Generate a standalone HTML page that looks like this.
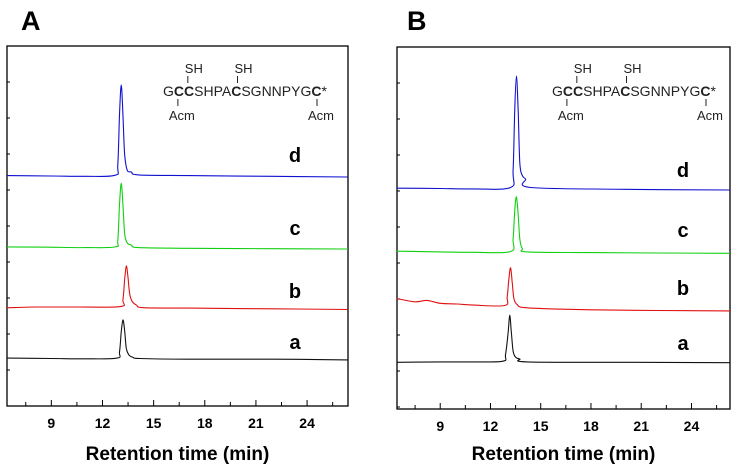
<!DOCTYPE html>
<html><head><meta charset="utf-8"><style>
body{margin:0;background:#fff;width:737px;height:472px;overflow:hidden}
svg{display:block;font-family:"Liberation Sans",Arial,sans-serif}
</style></head><body>
<svg id="c" width="737" height="472"></svg>
<script>
const xTicks=[9,12,15,18,21,24];
const traceNames=['a','b','c','d'];
const tracesA_t=[
 [6.4,9,11,12.85,13.0,13.1,13.2,13.3,13.4,13.55,13.8,14.2,17,22,26.4],
 [6.4,8.2,10.5,13.05,13.2,13.3,13.4,13.5,13.6,13.75,14.0,14.4,17,22,26.4],
 [6.4,9,11,12.75,12.9,13.0,13.1,13.2,13.3,13.45,13.7,14.1,17,22,26.4],
 [6.4,9,11,12.75,12.9,13.0,13.1,13.2,13.3,13.45,13.7,14.1,17,22,26.4]];
const tracesA_v=[
 [13.3,13.2,13.1,13.3,15,20.5,23.9,21,16,14.2,13.5,13.2,13.0,13.0,12.8],
 [27.3,27.5,27.5,27.6,29.5,35,38.9,35.5,31,29,28,27.3,27.2,27.0,26.8],
 [44.2,44.1,44.0,44.2,46,56,61.9,56,48,45.3,44.7,44.0,43.8,43.7,43.6],
 [64.0,63.9,63.8,64.1,67,81,89.2,81,70,65.5,65.0,64.2,64.0,63.8,63.6]];
const tracesB_t=[
 [6.4,9,11,12.75,12.9,13.05,13.15,13.25,13.35,13.5,13.75,14.2,20,26.3],
 [6.4,7.5,8.2,9,10,11,12.85,13.0,13.1,13.2,13.3,13.4,13.6,14.0,16,18,20,22,26.3],
 [6.4,9,11,13.2,13.35,13.45,13.55,13.65,13.75,13.9,14.2,18,22,26.3],
 [6.4,9,11,13.2,13.35,13.45,13.55,13.65,13.75,13.9,14.1,14.4,20,26.3]];
const tracesB_v=[
 [12.9,13.0,13.0,13.2,15,21,25.9,21,16,14.3,13.8,13.0,12.9,12.8],
 [30.5,29.6,30.0,29.2,29.0,28.7,28.6,31,36,39.0,35,30.5,28.8,28.0,27.6,27.4,27.3,27.2,27.1],
 [43.6,43.4,43.3,43.5,47,55,58.6,54,47,44.3,43.4,43.2,43.1,43.0],
 [61.0,60.9,60.8,61.2,66,83,92.0,83,68,64.5,63.5,61.2,60.7,60.5]];
const colors=['#111','#e01010','#10d010','#1010d0'];
const panels=[
 {name:'A',x0:7,x1:348,y0:46,y1:406,tmin:6.4,tmax:26.4,t:tracesA_t,v:tracesA_v,
  lx:295,ly:[342,291,228,155],tx:21,pep:{x:163,y:96}},
 {name:'B',x0:397,x1:730,y0:47,y1:409,tmin:6.42,tmax:26.3,t:tracesB_t,v:tracesB_v,
  lx:683,ly:[343,288,230,170],tx:407,pep:{x:552,y:96}}];
const NS='http://www.w3.org/2000/svg';
const svg=document.getElementById('c');
function mk(tag,attrs,parent,text){const e=document.createElementNS(NS,tag);for(const k in attrs)e.setAttribute(k,attrs[k]);if(text!==undefined)e.textContent=text;(parent||svg).appendChild(e);return e;}
function smooth(pts){let d='M'+pts[0][0].toFixed(1)+','+pts[0][1].toFixed(1);
 for(let i=0;i<pts.length-1;i++){const p0=pts[i-1]||pts[i],p1=pts[i],p2=pts[i+1],p3=pts[i+2]||p2;
  const c1=[p1[0]+(p2[0]-p0[0])/6,p1[1]+(p2[1]-p0[1])/6],c2=[p2[0]-(p3[0]-p1[0])/6,p2[1]-(p3[1]-p1[1])/6];
  d+=' C'+c1.map(v=>v.toFixed(1))+' '+c2.map(v=>v.toFixed(1))+' '+p2.map(v=>v.toFixed(1));}
 return d;}
panels.forEach((p,pi)=>{
 const g=mk('g',{});
 
 
 const X=t=>p.x0+(t-p.tmin)/(p.tmax-p.tmin)*(p.x1-p.x0);
 const Y=v=>p.y1-v/100*(p.y1-p.y0);
 const title=mk('text',{x:p.tx,y:30,'font-size':27,'font-weight':'bold'},g,p.name);
 
 
 const fr=mk('rect',{x:p.x0,y:p.y0,width:p.x1-p.x0,height:p.y1-p.y0,fill:'none',stroke:'#000','stroke-width':1.3},g);
 
 
 for(let yy=p.y0+36;yy<p.y1;yy+=36){mk('line',{x1:p.x0,x2:p.x0+3,y1:yy,y2:yy,stroke:'#000'},g);}
 for(let t=7.5;t<p.tmax;t+=1.5){const isMaj=xTicks.some(v=>Math.abs(v-t)<0.01);mk('line',{x1:X(t),x2:X(t),y1:p.y1,y2:p.y1-(isMaj?6:4),stroke:'#000'},g);}
 xTicks.forEach(t=>{const e=mk('text',{x:X(t),y:p.y1+22,'font-size':14,'font-weight':'bold','text-anchor':'middle'},g,String(t));
  
  });
 const at=mk('text',{x:(p.x0+p.x1)/2,y:460,'font-size':19,'font-weight':'bold','text-anchor':'middle'},g,'Retention time (min)');
 
 
 p.t.forEach((ts,i)=>{
  const pts=ts.map((t,j)=>[X(t),Y(p.v[i][j])]);
  const path=mk('path',{d:smooth(pts),fill:'none',stroke:colors[i],'stroke-width':1.1,'stroke-linejoin':'round'},g);
  
  
  const l=mk('text',{x:p.lx,y:p.ly[i]+7,'font-size':20,'font-weight':'bold','text-anchor':'middle'},g,traceNames[i]);
  
  
 });
 const pg=mk('g',{},g);
 
 
 const tx=mk('text',{x:p.pep.x,y:p.pep.y,'font-size':14,fill:'#222'},pg);
 const parts=[['G',0],['CC',1],['SHPA',0],['C',1],['SGNNPYG',0],['C',1],['*',0]];
 parts.forEach(q=>{mk('tspan',{'font-weight':q[1]?'bold':'normal'},tx,q[0]);});
 const w=tx.getComputedTextLength?tx.getComputedTextLength():160;
 const sc=w/16.5;
 const marks=[[1.5,1],[2.5,-1],[7.5,-1],[15.5,1]];
 marks.forEach(m=>{const cx=p.pep.x+m[0]*sc;
  if(m[1]<0){mk('line',{x1:cx,x2:cx,y1:p.pep.y-13,y2:p.pep.y-20,stroke:'#222'},pg);mk('text',{x:cx+6,y:p.pep.y-23,'font-size':13,'text-anchor':'middle',fill:'#222'},pg,'SH');}
  else{mk('line',{x1:cx,x2:cx,y1:p.pep.y+3,y2:p.pep.y+10,stroke:'#222'},pg);mk('text',{x:cx+4,y:p.pep.y+24,'font-size':13,'text-anchor':'middle',fill:'#222'},pg,'Acm');}
 });
});
</script>
</body></html>
